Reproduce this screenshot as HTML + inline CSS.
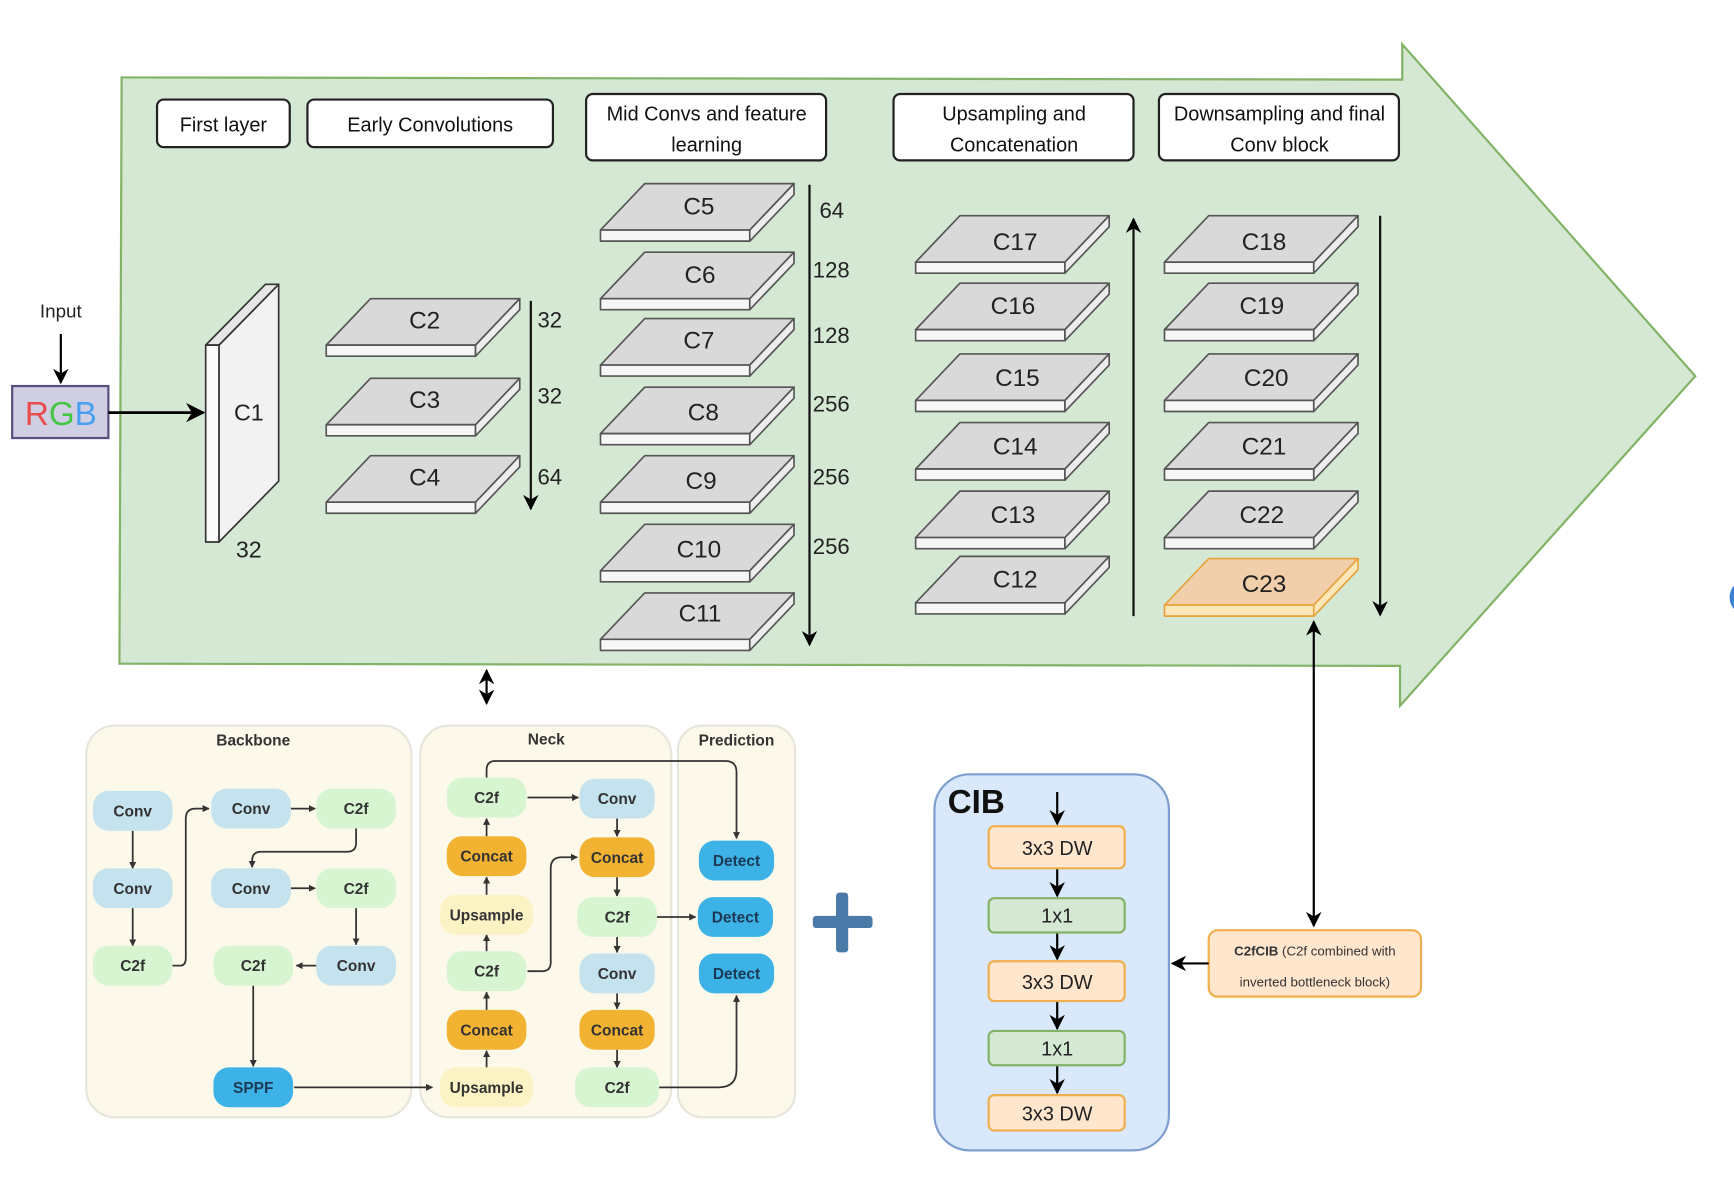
<!DOCTYPE html>
<html><head><meta charset="utf-8"><style>
html,body{margin:0;padding:0;background:#fff;}
svg{display:block;}
text{font-family:"Liberation Sans",sans-serif;}
</style></head><body>
<svg width="1734" height="1188" viewBox="0 0 1568 1074" preserveAspectRatio="none" xmlns="http://www.w3.org/2000/svg">
<defs>
<marker id="ah" viewBox="0 0 10 10" refX="9" refY="5" markerWidth="7" markerHeight="7" orient="auto-start-reverse"><path d="M0,0 L10,5 L0,10 L3,5 Z" fill="#000"/></marker>
<marker id="as" viewBox="0 0 10 10" refX="9" refY="5" markerWidth="4" markerHeight="4" orient="auto-start-reverse"><path d="M0,0 L10,5 L0,10 Z" fill="#333"/></marker>
<g id="slab" stroke="#555" stroke-width="1.5" stroke-linejoin="round">
<path d="M0,0 L135,0 L175,-42 L40,-42 Z" fill="#d9d9d9"/>
<path d="M0,0 L135,0 L135,10 L0,10 Z" fill="#f6f6f6"/>
<path d="M135,0 L175,-42 L175,-32 L135,10 Z" fill="#ededed"/>
</g>
<g id="slabO" stroke="#e8a33c" stroke-width="1.5" stroke-linejoin="round">
<path d="M0,0 L135,0 L175,-42 L40,-42 Z" fill="#f0cfaa"/>
<path d="M0,0 L135,0 L135,10 L0,10 Z" fill="#fde6b8"/>
<path d="M135,0 L175,-42 L175,-32 L135,10 Z" fill="#fde6b8"/>
</g>
</defs>

<!-- big arrow -->
<polygon points="110,70 1268,72 1268,40 1533,340 1266,638 1266,602 108,600" fill="#d5e8d4" stroke="#82b366" stroke-width="2"/>

<!-- header boxes -->
<g fill="#fff" stroke="#222" stroke-width="2">
<rect x="142" y="90" width="120" height="43" rx="6"/>
<rect x="278" y="90" width="222" height="43" rx="6"/>
<rect x="530" y="85" width="217" height="60" rx="6"/>
<rect x="808" y="85" width="217" height="60" rx="6"/>
<rect x="1048" y="85" width="217" height="60" rx="6"/>
</g>
<g font-size="18" fill="#111" text-anchor="middle">
<text x="202" y="119">First layer</text>
<text x="389" y="119">Early Convolutions</text>
<text x="639" y="109">Mid Convs and feature</text>
<text x="639" y="137">learning</text>
<text x="917" y="109">Upsampling and</text>
<text x="917" y="137">Concatenation</text>
<text x="1157" y="109">Downsampling and final</text>
<text x="1157" y="137">Conv block</text>
</g>

<!-- input -->
<text x="55" y="287" font-size="17" text-anchor="middle" fill="#222">Input</text>
<line x1="55" y1="302" x2="55" y2="346" stroke="#000" stroke-width="2" marker-end="url(#ah)"/>
<rect x="11" y="349" width="87" height="47" fill="#d0cee2" stroke="#56517e" stroke-width="2"/>
<text x="55" y="384" font-size="30" text-anchor="middle"><tspan fill="#e84c4c">R</tspan><tspan fill="#44c644">G</tspan><tspan fill="#4aa0f0">B</tspan></text>
<line x1="98" y1="373" x2="184" y2="373" stroke="#000" stroke-width="2.5" marker-end="url(#ah)"/>

<!-- C1 -->
<g stroke="#333" stroke-width="1.5" stroke-linejoin="round">
<path d="M198,312 L252,257 L252,435 L198,490 Z" fill="#f2f2f2"/>
<path d="M186,312 L240,257 L252,257 L198,312 Z" fill="#e6e6e6"/>
<rect x="186" y="312" width="12" height="178" fill="#fafafa"/>
</g>
<text x="225" y="380" font-size="21" text-anchor="middle" fill="#222">C1</text>
<text x="225" y="504" font-size="21" text-anchor="middle" fill="#222">32</text>

<!-- slabs -->
<use href="#slab" x="295" y="312"/><use href="#slab" x="295" y="384"/><use href="#slab" x="295" y="454"/>
<use href="#slab" x="543" y="208"/><use href="#slab" x="543" y="270"/><use href="#slab" x="543" y="330"/>
<use href="#slab" x="543" y="392"/><use href="#slab" x="543" y="454"/><use href="#slab" x="543" y="516"/><use href="#slab" x="543" y="578"/>
<use href="#slab" x="828" y="237"/><use href="#slab" x="828" y="298"/><use href="#slab" x="828" y="362"/>
<use href="#slab" x="828" y="424"/><use href="#slab" x="828" y="486"/><use href="#slab" x="828" y="545"/>
<use href="#slab" x="1053" y="237"/><use href="#slab" x="1053" y="298"/><use href="#slab" x="1053" y="362"/>
<use href="#slab" x="1053" y="424"/><use href="#slab" x="1053" y="486"/><use href="#slabO" x="1053" y="547"/>
<g font-size="22" text-anchor="middle" fill="#222">
<text x="384" y="297">C2</text><text x="384" y="369">C3</text><text x="384" y="439">C4</text>
<text x="632" y="194">C5</text><text x="633" y="256">C6</text><text x="632" y="315">C7</text>
<text x="636" y="380">C8</text><text x="634" y="442">C9</text><text x="632" y="504">C10</text><text x="633" y="562">C11</text>
<text x="918" y="226">C17</text><text x="916" y="284">C16</text><text x="920" y="349">C15</text>
<text x="918" y="411">C14</text><text x="916" y="473">C13</text><text x="918" y="531">C12</text>
<text x="1143" y="226">C18</text><text x="1141" y="284">C19</text><text x="1145" y="349">C20</text>
<text x="1143" y="411">C21</text><text x="1141" y="473">C22</text><text x="1143" y="535">C23</text>
</g>

<!-- vertical arrows -->
<g stroke="#111" stroke-width="2">
<line x1="480" y1="272" x2="480" y2="460" marker-end="url(#ah)"/>
<line x1="732" y1="167" x2="732" y2="583" marker-end="url(#ah)"/>
<line x1="1025" y1="557" x2="1025" y2="198" marker-end="url(#ah)"/>
<line x1="1248" y1="195" x2="1248" y2="556" marker-end="url(#ah)"/>
</g>
<g font-size="20" fill="#222">
<text x="486" y="296">32</text><text x="486" y="365">32</text><text x="486" y="438">64</text>
<text x="741" y="197">64</text><text x="735" y="251">128</text><text x="735" y="310">128</text>
<text x="735" y="372">256</text><text x="735" y="438">256</text><text x="735" y="501">256</text>
</g>

<!-- small double arrow -->
<line x1="440" y1="606" x2="440" y2="636" stroke="#000" stroke-width="2" marker-start="url(#ah)" marker-end="url(#ah)"/>

<!-- bottom panels -->
<g fill="#fdf9ea" stroke="#e8e6dc" stroke-width="2">
<rect x="78" y="656" width="294" height="354" rx="26"/>
<rect x="380" y="656" width="227" height="354" rx="26"/>
<rect x="613" y="656" width="106" height="354" rx="22"/>
</g>
<g font-size="14" font-weight="bold" fill="#333" text-anchor="middle">
<text x="229" y="674">Backbone</text><text x="494" y="673">Neck</text><text x="666" y="674">Prediction</text>
</g>

<!-- connectors -->
<g stroke="#333" stroke-width="1.6" fill="none" marker-end="url(#as)">
<line x1="120" y1="751" x2="120" y2="785"/>
<line x1="120" y1="821" x2="120" y2="855"/>
<path d="M156,873 L163,873 Q168,873 168,866 L168,740 Q168,731 177,731 L189,731"/>
<line x1="263" y1="731" x2="285" y2="731"/>
<path d="M322,749 L322,762 Q322,770 314,770 L236,770 Q228,770 228,778 L228,784"/>
<line x1="263" y1="803" x2="285" y2="803"/>
<line x1="322" y1="821" x2="322" y2="854"/>
<line x1="286" y1="873" x2="268" y2="873"/>
<line x1="229" y1="891" x2="229" y2="964"/>
<line x1="266" y1="983" x2="391" y2="983"/>
<line x1="440" y1="965" x2="440" y2="950"/>
<line x1="440" y1="913" x2="440" y2="897"/>
<line x1="440" y1="860" x2="440" y2="845"/>
<line x1="440" y1="809" x2="440" y2="793"/>
<line x1="440" y1="756" x2="440" y2="740"/>
<line x1="477" y1="721" x2="523" y2="721"/>
<path d="M440,703 L440,696 Q440,688 448,688 L656,688 Q666,688 666,698 L666,758"/>
<path d="M477,878 L490,878 Q498,878 498,870 L498,785 Q498,775 508,775 L522,775"/>
<line x1="558" y1="740" x2="558" y2="756"/>
<line x1="558" y1="793" x2="558" y2="810"/>
<line x1="594" y1="829" x2="629" y2="829"/>
<line x1="558" y1="847" x2="558" y2="861"/>
<line x1="558" y1="898" x2="558" y2="912"/>
<line x1="558" y1="949" x2="558" y2="965"/>
<path d="M596,983 L650,983 Q666,983 666,967 L666,900"/>
</g>

<!-- nodes -->
<g>
<rect x="84" y="715" width="72" height="36" rx="14" fill="#c5e3ef"/>
<rect x="84" y="785" width="72" height="36" rx="14" fill="#c5e3ef"/>
<rect x="84" y="855" width="72" height="36" rx="14" fill="#d6f5d0"/>
<rect x="191" y="713" width="72" height="36" rx="14" fill="#c5e3ef"/>
<rect x="286" y="713" width="72" height="36" rx="14" fill="#d6f5d0"/>
<rect x="191" y="785" width="72" height="36" rx="14" fill="#c5e3ef"/>
<rect x="286" y="785" width="72" height="36" rx="14" fill="#d6f5d0"/>
<rect x="193" y="855" width="72" height="36" rx="14" fill="#d6f5d0"/>
<rect x="286" y="855" width="72" height="36" rx="14" fill="#c5e3ef"/>
<rect x="193" y="965" width="72" height="36" rx="14" fill="#3db2e6"/>
<rect x="404" y="703" width="72" height="36" rx="14" fill="#d6f5d0"/>
<rect x="404" y="756" width="72" height="36" rx="14" fill="#f2b333"/>
<rect x="398" y="809" width="84" height="36" rx="14" fill="#fbf3c4"/>
<rect x="404" y="860" width="72" height="36" rx="14" fill="#d6f5d0"/>
<rect x="404" y="913" width="72" height="36" rx="14" fill="#f2b333"/>
<rect x="398" y="965" width="84" height="36" rx="14" fill="#fbf3c4"/>
<rect x="524" y="704" width="68" height="36" rx="14" fill="#c5e3ef"/>
<rect x="524" y="757" width="68" height="36" rx="14" fill="#f2b333"/>
<rect x="522" y="811" width="72" height="36" rx="14" fill="#d6f5d0"/>
<rect x="524" y="862" width="68" height="36" rx="14" fill="#c5e3ef"/>
<rect x="524" y="913" width="68" height="36" rx="14" fill="#f2b333"/>
<rect x="520" y="965" width="76" height="36" rx="14" fill="#d6f5d0"/>
<rect x="632" y="760" width="68" height="36" rx="14" fill="#3db2e6"/>
<rect x="631" y="811" width="68" height="36" rx="14" fill="#3db2e6"/>
<rect x="632" y="862" width="68" height="36" rx="14" fill="#3db2e6"/>
</g>
<g font-size="14" font-weight="bold" fill="#333" text-anchor="middle">
<text x="120" y="738">Conv</text><text x="120" y="808">Conv</text><text x="120" y="878">C2f</text>
<text x="227" y="736">Conv</text><text x="322" y="736">C2f</text>
<text x="227" y="808">Conv</text><text x="322" y="808">C2f</text>
<text x="229" y="878">C2f</text><text x="322" y="878">Conv</text>
<text x="229" y="988" fill="#1d3a55">SPPF</text>
<text x="440" y="726">C2f</text><text x="440" y="779">Concat</text><text x="440" y="832">Upsample</text>
<text x="440" y="883">C2f</text><text x="440" y="936">Concat</text><text x="440" y="988">Upsample</text>
<text x="558" y="727">Conv</text><text x="558" y="780">Concat</text><text x="558" y="834">C2f</text>
<text x="558" y="885">Conv</text><text x="558" y="936">Concat</text><text x="558" y="988">C2f</text>
<text x="666" y="783" fill="#1d3a55">Detect</text><text x="665" y="834" fill="#1d3a55">Detect</text><text x="666" y="885" fill="#1d3a55">Detect</text>
</g>

<!-- plus -->
<rect x="735" y="828" width="54" height="11" rx="3" fill="#4a7aa8"/>
<rect x="756" y="807" width="11" height="54" rx="3" fill="#4a7aa8"/>

<!-- CIB -->
<rect x="845" y="700" width="212" height="340" rx="32" fill="#dae8fc" stroke="#7d9fcf" stroke-width="2"/>
<text x="857" y="735" font-size="30" font-weight="bold" fill="#111">CIB</text>
<g stroke="#000" stroke-width="2">
<line x1="956" y1="716" x2="956" y2="745" marker-end="url(#ah)"/>
<line x1="956" y1="785" x2="956" y2="810" marker-end="url(#ah)"/>
<line x1="956" y1="843" x2="956" y2="867" marker-end="url(#ah)"/>
<line x1="956" y1="905" x2="956" y2="930" marker-end="url(#ah)"/>
<line x1="956" y1="963" x2="956" y2="988" marker-end="url(#ah)"/>
</g>
<g stroke-width="2">
<rect x="894" y="747" width="123" height="38" rx="5" fill="#ffe6cc" stroke="#f0b050"/>
<rect x="894" y="812" width="123" height="31" rx="5" fill="#d5e8d4" stroke="#82b366"/>
<rect x="894" y="869" width="123" height="36" rx="5" fill="#ffe6cc" stroke="#f0b050"/>
<rect x="894" y="932" width="123" height="31" rx="5" fill="#d5e8d4" stroke="#82b366"/>
<rect x="894" y="990" width="123" height="32" rx="5" fill="#ffe6cc" stroke="#f0b050"/>
</g>
<g font-size="18" text-anchor="middle" fill="#222">
<text x="956" y="773">3x3 DW</text><text x="956" y="834">1x1</text><text x="956" y="894">3x3 DW</text>
<text x="956" y="954">1x1</text><text x="956" y="1013">3x3 DW</text>
</g>

<!-- C2fCIB -->
<rect x="1093" y="841" width="192" height="60" rx="8" fill="#ffe6cc" stroke="#f0b050" stroke-width="2"/>
<text x="1189" y="864" font-size="12" text-anchor="middle" fill="#333"><tspan font-weight="bold">C2fCIB</tspan> (C2f combined with</text>
<text x="1189" y="892" font-size="12" text-anchor="middle" fill="#333">inverted bottleneck block)</text>
<line x1="1093" y1="871" x2="1060" y2="871" stroke="#000" stroke-width="2" marker-end="url(#ah)"/>
<line x1="1188" y1="562" x2="1188" y2="837" stroke="#000" stroke-width="2" marker-start="url(#ah)" marker-end="url(#ah)"/>

<!-- edge blue partial -->
<circle cx="1580" cy="540" r="16" fill="#3b82d0"/>
</svg>
</body></html>
